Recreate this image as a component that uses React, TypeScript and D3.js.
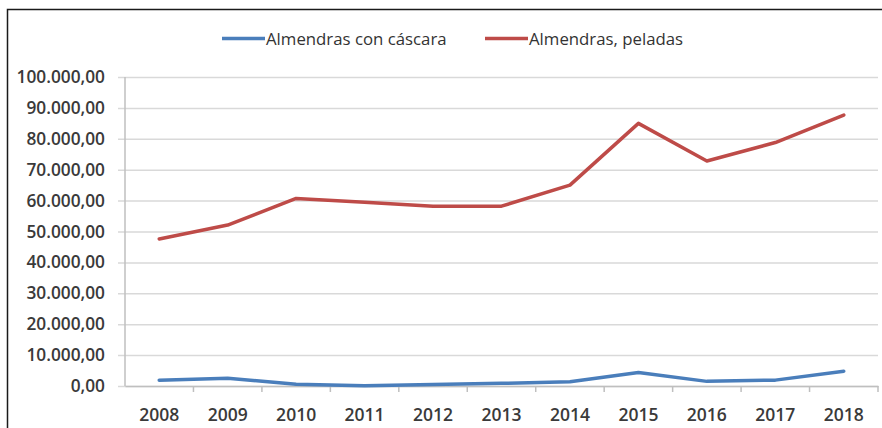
import { useEffect, useRef } from "react";
import * as d3 from "d3";

const years = ["2008", "2009", "2010", "2011", "2012", "2013", "2014", "2015", "2016", "2017", "2018"];
const conCascara = [1900, 2500, 550, 100, 500, 850, 1400, 4400, 1500, 1900, 4800];
const peladas = [47600, 52100, 60700, 59500, 58200, 58200, 65000, 85000, 72800, 78800, 87700];
const yTicks = [0, 10000, 20000, 30000, 40000, 50000, 60000, 70000, 80000, 90000, 100000];
const seriesNames = ["Almendras con cáscara", "Almendras, peladas"];
const colors = ["#4A7EBB", "#BE4B48"];

const font = "'Open Sans', sans-serif";

function App() {
  const ref = useRef<SVGSVGElement>(null);

  useEffect(() => {
    const width = 882;
    const height = 428;
    const margin = { top: 77, right: 4, bottom: 42, left: 125 };

    const svg = d3.select(ref.current);
    svg.selectAll("*").remove();

    svg.append("rect").attr("width", width).attr("height", height).attr("fill", "#fff");

    // outer frame (only top and left visible)
    svg
      .append("rect")
      .attr("x", 7.5)
      .attr("y", 9.5)
      .attr("width", 1000)
      .attr("height", 1000)
      .attr("fill", "none")
      .attr("stroke", "#1a1a1a")
      .attr("stroke-width", 1.5);

    const x = d3
      .scaleBand()
      .domain(years)
      .range([margin.left, width - margin.right])
      .padding(0);

    const y = d3
      .scaleLinear()
      .domain([0, 100000])
      .range([height - margin.bottom, margin.top]);

    const locale = d3.formatLocale({
      decimal: ",",
      thousands: ".",
      grouping: [3],
      currency: ["", "€"],
    });
    const fmt = locale.format(",.2f");

    // y gridlines + labels
    const yAxis = svg
      .append("g")
      .attr("transform", `translate(${margin.left},0)`)
      .call(
        d3
          .axisLeft(y)
          .tickValues(yTicks)
          .tickSize(-(width - margin.right - margin.left))
          .tickPadding(20)
          .tickFormat((d) => fmt(d as number))
      );
    yAxis.select(".domain").remove();
    yAxis
      .selectAll(".tick line")
      .attr("x1", -7)
      .attr("stroke", "#D9D9D9")
      .attr("stroke-width", 1.5);
    yAxis
      .selectAll(".tick text")
      .attr("fill", "#3a3a3a")
      .style("font-family", font)
      .style("font-size", "17.3px")
      .style("font-weight", 600);

    // y axis line
    svg
      .append("line")
      .attr("x1", margin.left)
      .attr("x2", margin.left)
      .attr("y1", y(100000))
      .attr("y2", y(0))
      .attr("stroke", "#BFBFBF")
      .attr("stroke-width", 1.5);

    // x axis
    const xAxis = svg
      .append("g")
      .attr("transform", `translate(0,${y(0)})`)
      .call(d3.axisBottom(x).tickSize(0).tickPadding(23));
    xAxis.select(".domain").attr("stroke", "#BFBFBF").attr("stroke-width", 1.5);
    xAxis
      .selectAll(".tick text")
      .attr("fill", "#3a3a3a")
      .style("font-family", font)
      .style("font-size", "17.5px")
      .style("font-weight", 600);

    // category boundary ticks
    svg
      .append("g")
      .selectAll("line")
      .data(years)
      .join("line")
      .attr("x1", (d) => (x(d) as number) + x.bandwidth())
      .attr("x2", (d) => (x(d) as number) + x.bandwidth())
      .attr("y1", y(0))
      .attr("y2", y(0) + 6)
      .attr("stroke", "#BFBFBF")
      .attr("stroke-width", 1.5);

    const line = d3
      .line<number>()
      .x((_, i) => (x(years[i]) as number) + x.bandwidth() / 2)
      .y((d) => y(d));

    [conCascara, peladas].forEach((vals, i) => {
      svg
        .append("path")
        .datum(vals)
        .attr("fill", "none")
        .attr("stroke", colors[i])
        .attr("stroke-width", 3.5)
        .attr("stroke-linejoin", "round")
        .attr("stroke-linecap", "round")
        .attr("d", line);
    });

    // legend
    const legendX = [222, 485];
    const legend = svg
      .append("g")
      .selectAll("g")
      .data(seriesNames)
      .join("g")
      .attr("transform", (_, i) => `translate(${legendX[i]},38.5)`);
    legend
      .append("line")
      .attr("x1", 0)
      .attr("x2", 43)
      .attr("stroke", (_, i) => colors[i])
      .attr("stroke-width", 3.5);
    legend
      .append("text")
      .attr("x", 44)
      .attr("y", 6.5)
      .attr("fill", "#333")
      .style("font-family", font)
      .style("font-size", "16.8px")
      .style("font-weight", 500)
      .text((d) => d);
  }, []);

  return (
    <div style={{ position: "fixed", left: 0, top: 0 }}>
      <svg ref={ref} width={882} height={428} style={{ display: "block" }} />
    </div>
  );
}

export default App;
